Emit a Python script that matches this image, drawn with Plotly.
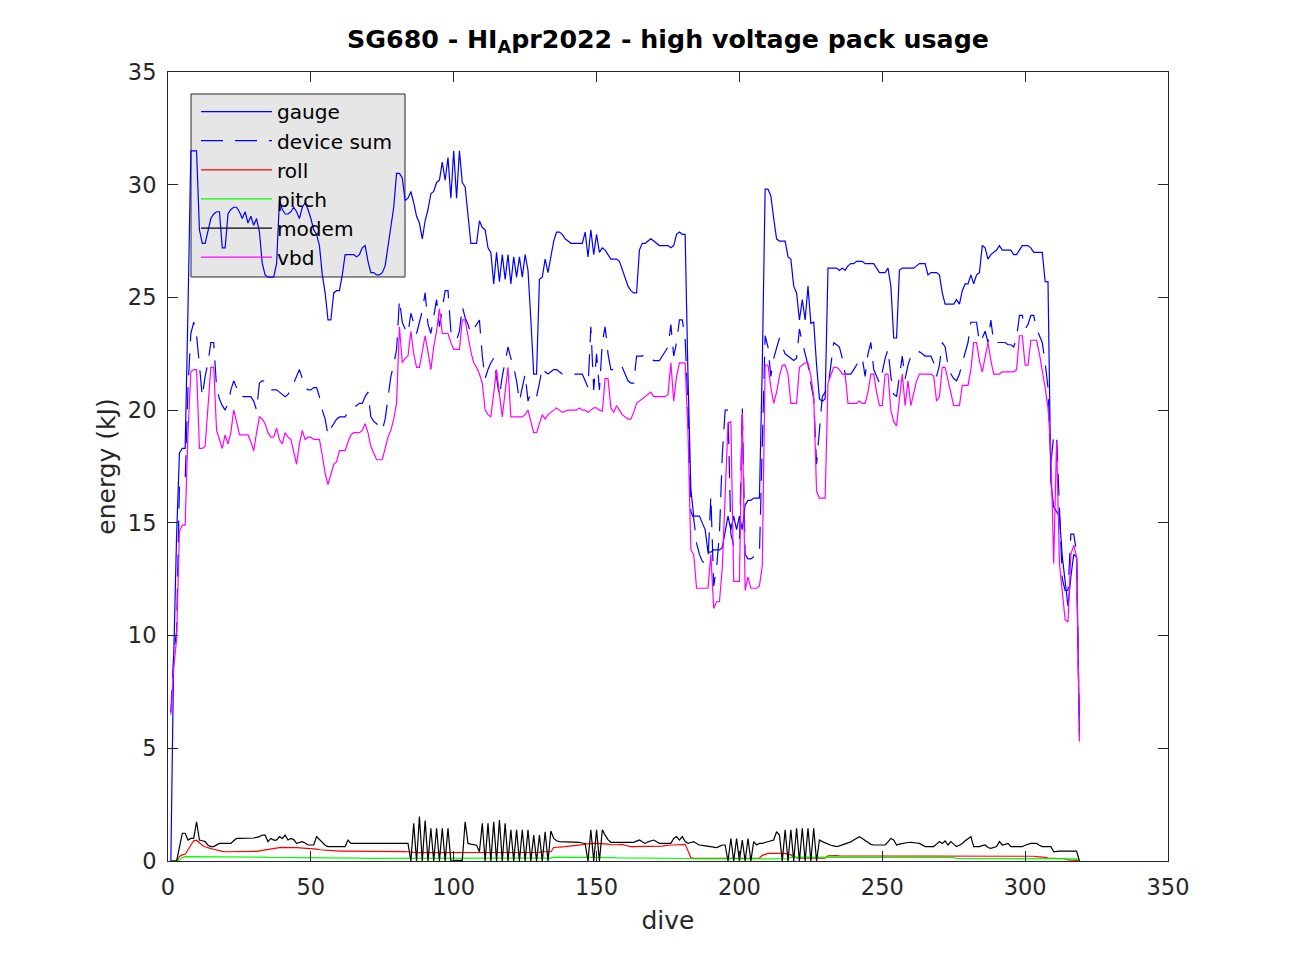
import plotly.graph_objects as go

dives = list(range(1, 320))

gauge = [
    0, 9.1, 14.4, 18.1, 18.3, 18.3, 24.5, 31.5, 31.5, 31.5,
    28.0, 27.4, 27.4, 28.0, 28.5, 28.7, 28.8, 28.8, 27.2, 27.2,
    28.7, 28.9, 29.0, 29.0, 28.8, 28.5, 28.8, 28.3, 28.6, 28.2,
    28.5, 27.9, 26.5, 26.0, 25.9, 25.9, 25.9, 26.5, 29.3, 28.9,
    28.7, 28.7, 28.8, 29.0, 28.8, 28.5, 29.0, 29.2, 28.9, 28.5,
    28.0, 27.8, 27.3, 26.0, 25.2, 24.0, 24.0, 25.2, 25.3, 25.3,
    26.0, 26.9, 26.9, 26.9, 26.9, 26.8, 26.9, 27.2, 27.3, 26.6,
    26.1, 26.1, 26.0, 26.0, 26.1, 26.4, 27.3, 28.3, 29.0, 30.5,
    30.5, 30.3, 29.3, 29.4, 29.7, 29.2, 28.6, 28.3, 27.6, 28.4,
    28.9, 29.6, 29.7, 30.1, 30.2, 31.0, 30.2, 31.2, 29.4, 31.5,
    29.4, 31.5, 30.1, 29.9, 28.5, 27.4, 27.4, 27.4, 28.4, 28.1,
    28.0, 27.2, 27.0, 25.6, 27.0, 25.7, 26.9, 25.8, 26.9, 25.6,
    26.8, 25.9, 26.8, 25.9, 26.9, 26.2, 24.0, 21.6, 21.6, 25.8,
    25.9, 26.7, 26.1, 26.8, 27.5, 27.9, 27.9, 27.8, 27.6, 27.5,
    27.4, 27.4, 27.4, 27.4, 27.4, 27.9, 26.8, 28.0, 26.9, 27.8,
    27.0, 27.2, 27.1, 26.9, 26.7, 26.7, 26.7, 26.6, 26.2, 25.8,
    25.5, 25.3, 25.2, 25.2, 27.1, 27.4, 27.4, 27.5, 27.6, 27.5,
    27.4, 27.3, 27.3, 27.3, 27.3, 27.2, 27.3, 27.8, 27.9, 27.8,
    27.8, 21.5, 16.5, 15.3, 15.3, 15.3, 15.0, 14.7, 13.7, 13.7,
    13.8, 13.8, 13.8, 13.9, 14.7, 15.3, 14.7, 15.3, 14.7, 15.3,
    14.7, 15.8, 16.0, 16.0, 16.1, 16.1, 16.1, 22.0, 29.8, 29.8,
    29.5, 28.5, 27.6, 27.5, 27.5, 27.5, 26.8, 26.7, 25.5, 25.2,
    24.0, 24.9, 24.0, 25.5, 23.85, 23.9, 22.0, 20.5, 20.4, 20.5,
    26.3, 26.3, 26.3, 26.3, 26.2, 26.3, 26.2, 26.4, 26.5, 26.5,
    26.6, 26.6, 26.6, 26.5, 26.5, 26.5, 26.5, 26.3, 26.1, 26.1,
    26.1, 26.3, 25.5, 23.2, 23.2, 26.2, 26.3, 26.3, 26.3, 26.3,
    26.3, 26.4, 26.5, 26.5, 26.5, 26.0, 26.1, 26.1, 26.1, 26.0,
    25.2, 24.7, 24.7, 24.7, 24.7, 24.9, 24.7, 25.3, 25.6, 25.6,
    26.0, 25.6, 26.0, 26.1, 27.3, 27.2, 26.7, 26.9, 27.0, 27.1,
    27.3, 27.1, 27.1, 27.1, 27.1, 26.9, 26.9, 27.1, 27.3, 27.3,
    27.3, 27.2, 27.0, 27.0, 27.0, 27.0, 25.7, 25.7, 16.8, 15.7,
    15.5, 15.3, 13.5, 12.3, 11.3, 12.6, 13.6, 13.5, 5.7,
]

device_sum = [
    6.6, 9.2, 10.2, 16.6, 16.7, 16.8, 21.0, 23.4, 23.9, 23.3,
    22.0, 20.6, 21.5, 22.1, 23.0, 23.0, 21.0, 20.5, 20.2, 20.0,
    20.3, 20.9, 21.3, 21.0, 20.6, 20.6, 20.6, 20.6, 20.6, 20.4,
    20.0, 21.2, 21.3, 21.3, 21.1, 20.9, 20.9, 20.9, 20.8, 20.7,
    20.6, 20.7, 20.9, 21.2, 21.5, 21.8, 21.4, 21.0, 20.9, 20.9,
    21.0, 21.0, 20.6, 20.0, 19.6, 18.9, 19.2, 19.4, 19.6, 19.7,
    19.7, 19.7, 19.9, 20.0, 20.1, 20.2, 20.3, 20.3, 20.6, 20.8,
    19.7, 19.5, 19.4, 19.2, 19.1, 19.6, 20.5, 21.5, 22.0, 22.7,
    24.9, 23.9, 23.6, 23.4, 24.3, 23.8, 23.4, 23.9, 24.4, 25.2,
    23.8, 23.4, 24.2, 24.9, 23.7, 24.5, 25.3, 25.3, 23.5, 23.3,
    23.1, 23.5, 24.6, 24.1, 23.8, 23.4, 23.6, 23.8, 24.0, 22.4,
    21.4, 21.8, 22.1, 22.3, 21.5, 20.6, 21.5, 22.2, 22.8, 22.3,
    21.9, 21.3, 20.4, 21.0, 21.6, 20.4, 20.8, 20.7, 20.6, 21.2,
    21.9, 21.7, 21.6, 21.7, 21.8, 21.8, 21.7, 21.6, 21.6, 21.6,
    21.6, 21.6, 21.6, 21.6, 21.6, 21.3, 21.0, 23.7, 20.9, 22.5,
    20.9, 23.0, 23.7, 22.5, 21.8, 21.8, 21.8, 22.0, 21.9, 21.6,
    21.3, 21.2, 21.2, 22.4, 22.4, 22.4, 22.5, 22.4, 22.3, 22.2,
    22.2, 22.2, 22.4, 22.6, 22.8, 23.8, 22.4, 23.0, 24.0, 24.0,
    23.2, 20.0, 15.5, 15.2, 14.1, 13.6, 13.3, 13.2, 13.3, 16.2,
    12.2, 13.0, 14.5, 18.0, 20.0, 20.0, 14.5, 14.0, 14.0, 14.0,
    20.2, 13.6, 13.4, 13.4, 13.5, 13.6, 13.6, 18.5, 23.3, 22.8,
    21.5, 22.3, 22.8, 23.2, 22.8, 22.5, 22.4, 22.3, 22.2, 22.3,
    23.6, 23.0, 22.5, 22.0, 21.2, 20.5, 17.6, 19.0, 20.6, 20.8,
    21.0, 22.0, 23.0, 22.9, 22.8, 22.3, 21.6, 21.6, 21.6, 21.8,
    22.0, 22.3, 22.3, 21.5, 22.5, 23.0, 21.8, 21.5, 21.2, 21.7,
    22.3, 22.7, 21.5, 20.7, 20.6, 21.5, 22.4, 21.4, 22.0, 22.4,
    22.4, 22.4, 22.6, 22.5, 22.4, 22.4, 22.4, 22.1, 21.5, 22.0,
    23.0, 22.8, 22.0, 21.6, 21.4, 21.3, 21.6, 22.1, 22.6, 23.0,
    23.9, 23.9, 23.9, 23.0, 23.2, 23.5, 23.0, 24.0, 23.0, 23.0,
    23.0, 23.0, 23.0, 22.9, 22.9, 22.8, 23.2, 24.2, 24.2, 23.6,
    23.8, 24.2, 24.2, 23.6, 23.3, 23.0, 22.1, 21.0, 17.6, 18.9,
    18.9, 15.5, 12.5, 12.0, 12.0, 14.5, 14.5, 13.7, 5.5,
]

roll = [
    0, 0, 0, 0.2, 0.27, 0.3, 0.5, 0.75, 0.9, 0.92,
    0.8, 0.7, 0.63, 0.58, 0.55, 0.52, 0.48, 0.45, 0.43, 0.41,
    0.41, 0.41, 0.4, 0.41, 0.41, 0.42, 0.41, 0.41, 0.42, 0.42,
    0.43, 0.45, 0.47, 0.5, 0.53, 0.56, 0.58, 0.59, 0.59, 0.6,
    0.59, 0.59, 0.6, 0.59, 0.59, 0.58, 0.59, 0.59, 0.58, 0.57,
    0.56, 0.53, 0.5, 0.49, 0.47, 0.45, 0.44, 0.44, 0.45, 0.44,
    0.44, 0.44, 0.45, 0.44, 0.44, 0.44, 0.43, 0.44, 0.44, 0.44,
    0.44, 0.45, 0.44, 0.44, 0.44, 0.43, 0.44, 0.44, 0.44, 0.43,
    0.42, 0.42, 0.42, 0.41, 0.41, 0.38, 0.37, 0.37, 0.38, 0.37,
    0.37, 0.37, 0.38, 0.37, 0.37, 0.37, 0.36, 0.37, 0.37, 0.37,
    0.38, 0.37, 0.37, 0.37, 0.37, 0.37, 0.36, 0.35, 0.37, 0.37,
    0.37, 0.37, 0.38, 0.37, 0.37, 0.37, 0.37, 0.38, 0.37, 0.37,
    0.37, 0.37, 0.37, 0.38, 0.37, 0.37, 0.37, 0.37, 0.37, 0.38,
    0.41, 0.41, 0.41, 0.41, 0.6, 0.6, 0.62, 0.63, 0.64, 0.65,
    0.67, 0.69, 0.7, 0.71, 0.73, 0.75, 0.77, 0.78, 0.78, 0.78,
    0.78, 0.78, 0.78, 0.75, 0.72, 0.71, 0.72, 0.73, 0.74, 0.7,
    0.66, 0.64, 0.64, 0.64, 0.64, 0.65, 0.64, 0.64, 0.64, 0.64,
    0.64, 0.64, 0.66, 0.68, 0.71, 0.71, 0.71, 0.71, 0.71, 0.71,
    0.74, 0.45, 0.15, 0.12, 0.12, 0.12, 0.12, 0.12, 0.12, 0.12,
    0.12, 0.12, 0.12, 0.12, 0.12, 0.12, 0.12, 0.12, 0.12, 0.12,
    0.12, 0.12, 0.12, 0.12, 0.12, 0.12, 0.12, 0.25, 0.3, 0.34,
    0.34, 0.34, 0.34, 0.34, 0.34, 0.34, 0.3, 0.27, 0.2, 0.14,
    0.13, 0.13, 0.13, 0.13, 0.13, 0.13, 0.13, 0.13, 0.13, 0.13,
    0.23, 0.24, 0.24, 0.24, 0.23, 0.23, 0.23, 0.23, 0.23, 0.23,
    0.23, 0.23, 0.23, 0.24, 0.23, 0.23, 0.23, 0.23, 0.23, 0.23,
    0.23, 0.23, 0.23, 0.23, 0.23, 0.23, 0.23, 0.22, 0.23, 0.23,
    0.23, 0.23, 0.23, 0.23, 0.23, 0.23, 0.23, 0.23, 0.23, 0.23,
    0.22, 0.23, 0.23, 0.23, 0.23, 0.23, 0.23, 0.22, 0.23, 0.23,
    0.23, 0.23, 0.23, 0.23, 0.23, 0.23, 0.23, 0.23, 0.22, 0.23,
    0.23, 0.23, 0.23, 0.22, 0.22, 0.22, 0.22, 0.22, 0.21, 0.21,
    0.21, 0.21, 0.21, 0.19, 0.19, 0.19, 0.16, 0.13, 0.13, 0.13,
    0.1, 0.1, 0.1, 0.1, 0.05, 0.05, 0.05, 0.03, 0,
]

pitch = [
    0, 0, 0, 0.04, 0.15, 0.19, 0.19, 0.19, 0.2, 0.19,
    0.19, 0.19, 0.19, 0.18, 0.19, 0.19, 0.19, 0.19, 0.18, 0.19,
    0.19, 0.19, 0.18, 0.19, 0.19, 0.18, 0.19, 0.19, 0.18, 0.18,
    0.18, 0.18, 0.17, 0.17, 0.16, 0.16, 0.16, 0.16, 0.16, 0.16,
    0.16, 0.16, 0.16, 0.15, 0.16, 0.16, 0.16, 0.16, 0.15, 0.16,
    0.16, 0.16, 0.15, 0.15, 0.15, 0.15, 0.15, 0.14, 0.14, 0.14,
    0.14, 0.14, 0.14, 0.14, 0.13, 0.13, 0.13, 0.12, 0.12, 0.12,
    0.12, 0.12, 0.12, 0.12, 0.12, 0.12, 0.12, 0.12, 0.12, 0.12,
    0.12, 0.12, 0.12, 0.12, 0.12, 0.12, 0.11, 0.12, 0.12, 0.12,
    0.12, 0.12, 0.12, 0.11, 0.12, 0.12, 0.12, 0.12, 0.12, 0.12,
    0.12, 0.12, 0.12, 0.12, 0.12, 0.12, 0.12, 0.12, 0.12, 0.12,
    0.12, 0.12, 0.12, 0.12, 0.12, 0.11, 0.12, 0.12, 0.12, 0.12,
    0.12, 0.12, 0.12, 0.12, 0.12, 0.12, 0.12, 0.12, 0.12, 0.12,
    0.12, 0.12, 0.12, 0.13, 0.17, 0.17, 0.17, 0.17, 0.18, 0.17,
    0.17, 0.17, 0.18, 0.17, 0.17, 0.17, 0.17, 0.17, 0.17, 0.18,
    0.17, 0.17, 0.17, 0.16, 0.16, 0.15, 0.14, 0.14, 0.14, 0.14,
    0.13, 0.12, 0.12, 0.12, 0.12, 0.12, 0.12, 0.12, 0.12, 0.12,
    0.12, 0.12, 0.12, 0.12, 0.12, 0.12, 0.12, 0.12, 0.12, 0.12,
    0.12, 0.12, 0.11, 0.09, 0.09, 0.09, 0.09, 0.09, 0.09, 0.09,
    0.09, 0.09, 0.09, 0.09, 0.09, 0.09, 0.09, 0.09, 0.09, 0.09,
    0.09, 0.09, 0.09, 0.09, 0.09, 0.09, 0.09, 0.09, 0.09, 0.09,
    0.09, 0.09, 0.09, 0.09, 0.09, 0.09, 0.1, 0.17, 0.17, 0.17,
    0.17, 0.17, 0.17, 0.17, 0.17, 0.17, 0.17, 0.17, 0.15, 0.15,
    0.15, 0.15, 0.15, 0.15, 0.15, 0.15, 0.15, 0.15, 0.15, 0.15,
    0.15, 0.15, 0.15, 0.15, 0.15, 0.15, 0.15, 0.15, 0.15, 0.15,
    0.15, 0.15, 0.15, 0.15, 0.15, 0.15, 0.15, 0.15, 0.15, 0.15,
    0.15, 0.15, 0.15, 0.15, 0.15, 0.15, 0.15, 0.15, 0.15, 0.15,
    0.15, 0.15, 0.15, 0.15, 0.15, 0.12, 0.12, 0.12, 0.12, 0.12,
    0.12, 0.12, 0.12, 0.12, 0.12, 0.12, 0.12, 0.12, 0.12, 0.12,
    0.12, 0.12, 0.12, 0.12, 0.12, 0.12, 0.12, 0.12, 0.12, 0.12,
    0.12, 0.12, 0.12, 0.12, 0.12, 0.12, 0.12, 0.12, 0.12, 0.12,
    0.09, 0.09, 0.09, 0.09, 0.09, 0.09, 0.09, 0.09, 0,
]

modem = [
    0, 0, 0, 0.6, 1.23, 1.23, 0.93, 1.0, 1.0, 1.74,
    0.93, 0.9, 0.86, 0.7, 0.64, 0.64, 0.7, 0.78, 0.78, 0.78,
    0.78, 0.78, 0.9, 1.0, 1.0, 1.0, 1.0, 1.0, 1.0, 1.02,
    1.05, 1.08, 1.15, 1.15, 0.86, 1.0, 0.93, 0.93, 1.08, 1.0,
    1.15, 0.93, 1.0, 0.95, 0.78, 0.82, 0.86, 0.8, 0.71, 0.71,
    0.71, 1.08, 0.95, 0.86, 0.7, 0.64, 0.64, 0.64, 0.64, 0.64,
    0.64, 0.64, 0.93, 0.78, 0.78, 0.78, 0.78, 0.78, 0.78, 0.78,
    0.78, 0.78, 0.78, 0.78, 0.78, 0.78, 0.78, 0.78, 0.78, 0.78,
    0.78, 0.78, 0.78, 0.78, 0, 1.67, 0, 1.97, 0, 1.8,
    0, 1.45, 0, 1.45, 0, 1.45, 0, 1.45, 0, 0.03,
    0.03, 0.03, 0.03, 1.74, 0.78, 0.75, 0.71, 0.7, 0.41, 1.67,
    0, 1.67, 0, 1.74, 0, 1.82, 0, 1.67, 0, 1.38,
    0, 1.38, 0, 1.38, 0, 1.38, 0, 1.15, 0, 1.15,
    0, 1.3, 0, 1.33, 1.0, 0.9, 0.86, 0.86, 0.83, 0.83,
    0.83, 0.83, 0.83, 0.83, 0.8, 0.78, 0, 1.38, 0, 1.38,
    0, 1.38, 1.15, 0.95, 0.83, 0.83, 0.83, 0.83, 0.83, 0.83,
    0.83, 0.83, 0.83, 0.88, 0.93, 0.85, 0.78, 0.85, 0.9, 0.93,
    0.85, 0.78, 0.78, 0.78, 0.78, 0.78, 1.0, 1.08, 0.93, 1.08,
    0.86, 0.78, 0.82, 0.86, 0.78, 0.71, 0.69, 0.67, 0.65, 0.64,
    0.64, 0.59, 0.65, 0.71, 0.71, 0, 1.0, 0, 1.0, 0,
    0.93, 0, 1.0, 0, 0.86, 0.71, 0.78, 0.78, 0.82, 0.86,
    0.88, 0.93, 1.3, 1.15, 0, 1.38, 0, 1.38, 0, 1.45,
    0, 1.45, 0, 1.45, 0, 1.45, 0, 0.93, 0.86, 0.8,
    0.74, 0.7, 0.67, 0.64, 0.67, 0.71, 0.74, 0.78, 0.85, 0.93,
    1.0, 1.08, 1.0, 0.9, 0.8, 0.74, 0.71, 0.71, 0.71, 0.71,
    0.71, 0.85, 1.0, 0.93, 0.71, 0.75, 0.78, 0.8, 0.82, 0.83,
    0.83, 0.8, 0.78, 0.7, 0.64, 0.64, 0.64, 0.64, 0.75, 0.86,
    0.78, 0.89, 0.71, 0.86, 0.75, 0.64, 0.7, 0.78, 0.9, 1.0,
    1.08, 0.64, 0.64, 0.64, 0.68, 0.71, 0.6, 0.56, 0.6, 0.64,
    0.86, 0.71, 0.74, 0.78, 0.64, 0.64, 0.64, 0.64, 0.64, 0.7,
    0.74, 0.78, 0.78, 0.78, 0.7, 0.64, 0.64, 0.64, 0.64, 0.41,
    0.44, 0.44, 0.44, 0.44, 0.44, 0.44, 0.44, 0.44, 0,
]

vbd = [
    6.5, 8.6, 9.8, 14.6, 14.9, 14.9, 19.0, 21.7, 21.8, 21.8,
    18.3, 18.3, 18.4, 20.0, 21.9, 21.9, 19.1, 18.7, 18.3, 18.9,
    18.5, 19.0, 20.0, 19.5, 18.9, 18.9, 18.9, 18.9, 18.6, 18.2,
    19.0, 19.7, 19.6, 19.4, 19.0, 18.8, 18.8, 19.2, 18.7, 18.5,
    19.0, 18.8, 18.7, 18.2, 17.6, 18.5, 19.1, 18.7, 18.8, 18.8,
    18.7, 18.7, 18.7, 18.0, 17.2, 16.7, 17.2, 17.6, 17.7, 18.2,
    18.2, 18.2, 18.6, 18.9, 19.0, 19.0, 19.0, 19.1, 19.4, 19.0,
    18.4, 18.1, 17.8, 17.8, 17.8, 18.3, 18.8, 19.1, 19.6, 20.3,
    23.7, 22.1, 22.3, 22.4, 23.5, 22.5, 21.9, 21.9, 22.6, 23.3,
    22.6, 21.8, 22.8, 23.5, 24.5, 23.4, 23.4, 23.4, 23.0, 22.7,
    22.7, 22.7, 24.0, 24.0, 23.3, 22.6, 22.1, 21.9, 21.6, 21.2,
    20.0, 19.8, 19.7, 20.8, 21.8, 20.7, 19.7, 20.8, 21.9, 19.7,
    19.7, 19.7, 19.7, 19.7, 19.8, 20.0, 19.5, 19.0, 19.0, 19.4,
    19.8, 19.6, 19.8, 19.9, 20.0, 20.1, 20.0, 19.9, 19.95, 20.0,
    20.0, 20.0, 20.0, 20.1, 20.0, 20.0, 19.9, 20.0, 20.1, 20.1,
    20.0, 19.95, 21.4, 21.4, 20.1, 19.9, 20.2, 20.0, 19.8, 19.7,
    19.6, 19.6, 19.9, 20.3, 20.4, 20.5, 20.6, 20.7, 20.8, 20.6,
    20.6, 20.6, 20.6, 20.6, 20.7, 22.1, 20.4, 21.5, 22.1, 22.1,
    22.1, 19.0, 13.8, 13.6, 12.1, 12.1, 12.1, 12.1, 12.1, 13.6,
    11.2, 11.5, 11.5, 13.0, 16.5, 19.4, 19.5, 12.4, 12.4, 12.4,
    19.9, 12.0, 12.6, 12.1, 12.1, 12.1, 12.2, 13.1, 22.0, 22.0,
    21.0, 20.3, 20.8, 21.5, 22.0, 22.0, 21.6, 20.3, 20.3, 20.3,
    21.9, 22.0, 22.1, 22.1, 21.5, 20.6, 16.4, 16.1, 16.1, 16.1,
    21.2, 21.6, 21.9, 21.9, 21.8, 21.6, 21.6, 20.3, 20.3, 20.3,
    20.3, 20.4, 20.3, 20.3, 20.8, 21.6, 21.6, 20.8, 20.2, 20.2,
    21.6, 21.6, 20.0, 19.5, 19.3, 20.5, 21.6, 20.2, 21.3, 20.2,
    20.8, 21.3, 21.6, 21.6, 21.6, 21.6, 21.6, 21.5, 20.4, 20.6,
    21.9, 21.9, 21.3, 20.8, 20.2, 20.2, 20.2, 21.1, 21.1, 21.1,
    21.8, 23.0, 23.0, 22.2, 21.7, 22.3, 23.0, 22.2, 21.6, 21.6,
    21.6, 21.7, 21.7, 21.7, 21.7, 21.7, 21.8, 23.3, 23.3, 22.0,
    22.0, 23.1, 23.1, 23.1, 22.5, 21.8, 21.0, 20.1, 18.2, 13.2,
    18.6, 13.2, 12.0, 10.7, 10.6, 13.6, 14.0, 13.5, 5.3,
]

x_ticks = [0, 50, 100, 150, 200, 250, 300, 350]
y_ticks = [0, 5, 10, 15, 20, 25, 30, 35]

AX = "#262626"
FONT = "DejaVu Sans"

fig = go.Figure()
series = [
    ("gauge", gauge, "#0000ff", "solid"),
    ("device sum", device_sum, "#0000ff", "22px,12px"),
    ("roll", roll, "#ff0000", "solid"),
    ("pitch", pitch, "#00ff00", "solid"),
    ("modem", modem, "#000000", "solid"),
    ("vbd", vbd, "#ff00ff", "solid"),
]
for name, vals, col, dash in series:
    fig.add_trace(go.Scatter(
        x=dives, y=vals, mode="lines", name=name,
        line=dict(color=col, width=1.2, dash=dash),
        hoverinfo="skip",
    ))

fig.update_layout(
    width=1291, height=968,
    margin=dict(l=168, r=123, t=72, b=107),
    paper_bgcolor="white", plot_bgcolor="white",
    font=dict(family=FONT, color=AX, size=20),
    title=dict(
        text="<b>SG680 - HI<sub>A</sub>pr2022 - high voltage pack usage</b>",
        x=0.5, xref="paper", xanchor="center",
        y=1 - 39 / 968, yref="container", yanchor="middle",
        font=dict(family=FONT, size=25.3, color="#000000"),
    ),
    showlegend=True,
    legend=dict(
        x=0.028, y=0.9747, xanchor="left", yanchor="top",
        bgcolor="rgba(0,0,0,0)", borderwidth=0,
        font=dict(family=FONT, size=20.1, color="#000000"),
        itemwidth=71,
    ),
    shapes=[dict(
        type="rect", xref="paper", yref="paper",
        x0=0.023, x1=0.237, y0=0.7402, y1=0.9721,
        fillcolor="rgb(230,230,230)", line=dict(color=AX, width=1),
        layer="below",
    )],
)

fig.update_xaxes(
    range=[0, 350], tickvals=x_ticks, ticks="inside", ticklen=10,
    tickcolor=AX, showline=True, linecolor=AX, linewidth=1, mirror="allticks",
    showgrid=False, zeroline=False, ticklabelstandoff=6,
    tickfont=dict(family=FONT, size=22.5, color=AX),
    title=dict(text="dive", font=dict(family=FONT, size=25, color=AX), standoff=12),
)
fig.update_yaxes(
    range=[0, 35], tickvals=y_ticks, ticks="inside", ticklen=10,
    tickcolor=AX, showline=True, linecolor=AX, linewidth=1, mirror="allticks",
    showgrid=False, zeroline=False, ticklabelstandoff=6,
    tickfont=dict(family=FONT, size=22.5, color=AX),
    title=dict(text="energy (kJ)", font=dict(family=FONT, size=25, color=AX), standoff=5),
)

fig.write_html(
    "out.html",
    config={"displayModeBar": False},
    post_script="document.body.style.margin='0px';document.body.style.overflow='hidden';",
)
